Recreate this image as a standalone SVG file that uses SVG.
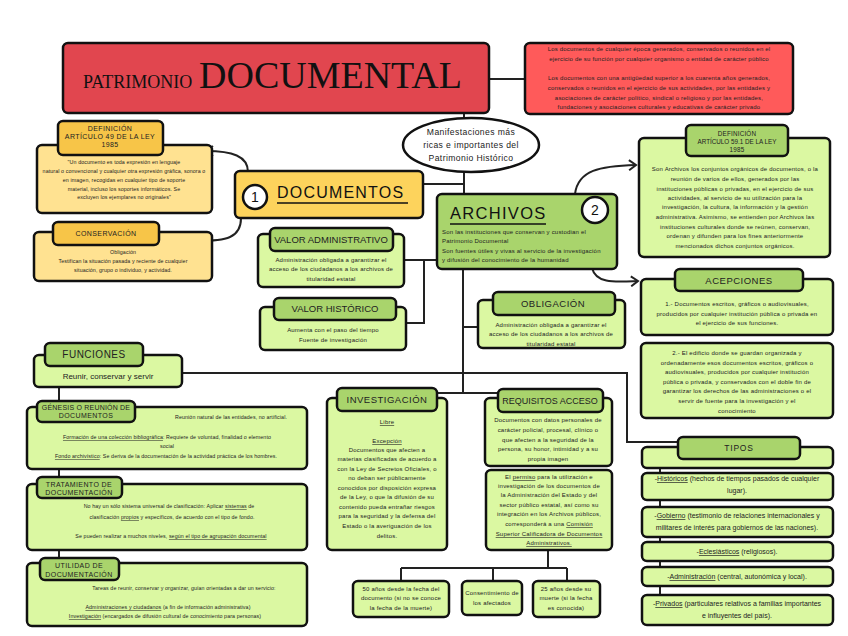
<svg xmlns="http://www.w3.org/2000/svg" width="848" height="636" viewBox="0 0 848 636">
<defs>
<style>
.box{stroke:#111;stroke-width:2.5}
.lg{fill:#DBF8A2}.dg{fill:#A9D46C}.ly{fill:#FFE291}.dy{fill:#F7C548}
.ln{fill:none;stroke:#222;stroke-width:2}
.s{font-family:"Liberation Sans",Arial,sans-serif;font-size:6px;letter-spacing:.2px;fill:#222;text-anchor:middle}
.s5{font-family:"Liberation Sans",Arial,sans-serif;font-size:5.3px;letter-spacing:.1px;fill:#222;text-anchor:middle}
.h{font-family:"Liberation Sans",Arial,sans-serif;font-size:9.5px;letter-spacing:.5px;fill:#222;text-anchor:middle}
.tb{font-family:"Liberation Sans",Arial,sans-serif;font-size:7px;letter-spacing:.4px;fill:#222;text-anchor:middle}
.tp{font-family:"Liberation Sans",Arial,sans-serif;font-size:7px;fill:#222;text-anchor:middle}
.u{text-decoration:underline}
</style>
<marker id="arr" markerWidth="12" markerHeight="12" refX="9" refY="6" orient="auto" markerUnits="userSpaceOnUse">
<path d="M2,1 L9,6 L2,11" fill="none" stroke="#222" stroke-width="2"/>
</marker>
</defs>
<rect width="848" height="636" fill="#fff"/>

<g id="connectors">
<path class="ln" d="M489,79 H525"/>
<path class="ln" d="M464,113 V118"/>
<path class="ln" d="M464,172 V194"/>
<path class="ln" d="M423,184 H464"/>
<path class="ln" d="M463,269 V393"/>
<path class="ln" d="M463,327 H478"/>
<path class="ln" d="M404,260 H437 M424,260 V323 H406"/>
<path class="ln" d="M182,373 H627 V442 H678"/>
<path class="ln" d="M436,393 H499"/>
<path class="ln" d="M548,550 V568 M401,568 H567 M401,568 V581 M493,568 V581 M567,568 V581"/>
<path class="ln" d="M59,387 V401 M59,469 V477 M59,550 V560"/>
<path class="ln" d="M660,467 V596"/>
<path class="ln" d="M248,172 C248,156 232,151 206,151" marker-end="url(#arr)"/>
<path class="ln" d="M241,218 C241,238 226,241 198,241" marker-end="url(#arr)"/>
<path class="ln" d="M575,194 C578,170 600,166 636,165" marker-end="url(#arr)"/>
<path class="ln" d="M592,268 C596,284 615,282 638,281" marker-end="url(#arr)"/>
</g>

<g id="title">
<rect class="box" x="63" y="43" width="426" height="70" rx="5" fill="#E1464F"/>
<text x="83" y="88" font-family="Liberation Serif,serif" font-size="18" fill="#111">PATRIMONIO</text>
<text x="199" y="88" font-family="Liberation Serif,serif" font-size="38" fill="#111">DOCUMENTAL</text>
</g>

<g id="info-roja">
<rect class="box" x="525" y="43" width="268" height="71" rx="5" fill="#FF5A5A"/>
<text class="s" x="659" y="51">Los documentos de cualquier época generados, conservados o reunidos en el</text>
<text class="s" x="659" y="61">ejercicio de su función por cualquier organismo o entidad de carácter público</text>
<text class="s" x="659" y="80">Los documentos con una antigüedad superior a los cuarenta años generados,</text>
<text class="s" x="659" y="90">conservados o reunidos en el ejercicio de sus actividades, por las entidades y</text>
<text class="s" x="659" y="100">asociaciones de carácter político, sindical o religioso y por las entidades,</text>
<text class="s" x="659" y="109">fundaciones y asociaciones culturales y educativas de carácter privado</text>
</g>

<g id="manifestaciones">
<ellipse cx="471" cy="145" rx="68" ry="27" fill="#fff" stroke="#111" stroke-width="2.5"/>
<text class="tp" x="471" y="135" style="font-size:8.6px;letter-spacing:.4px">Manifestaciones más</text>
<text class="tp" x="471" y="148" style="font-size:8.6px;letter-spacing:.4px">ricas e importantes del</text>
<text class="tp" x="471" y="161" style="font-size:8.6px;letter-spacing:.4px">Patrimonio Histórico</text>
</g>

<g id="documentos">
<rect class="box" x="235" y="171" width="188" height="47" rx="5" fill="#FDD35C"/>
<circle cx="255" cy="197" r="12" fill="#fff" stroke="#111" stroke-width="2.5"/>
<text x="255" y="202" font-family="Liberation Sans,sans-serif" font-size="14" text-anchor="middle" fill="#111">1</text>
<text x="277" y="198" font-family="Liberation Sans,sans-serif" font-size="16" letter-spacing="1.2" fill="#111">DOCUMENTOS</text>
<path d="M277,203 H408" stroke="#111" stroke-width="1.5"/>
</g>

<g id="archivos">
<rect class="box" x="437" y="194" width="180" height="75" rx="5" fill="#A9D46C"/>
<text x="450" y="219" font-family="Liberation Sans,sans-serif" font-size="16.5" letter-spacing="1.3" fill="#111">ARCHIVOS</text>
<path d="M450,224 H546" stroke="#111" stroke-width="1.5"/>
<circle cx="595" cy="210" r="13" fill="#fff" stroke="#111" stroke-width="2.5"/>
<text x="595" y="215" font-family="Liberation Sans,sans-serif" font-size="14" text-anchor="middle" fill="#111">2</text>
<text class="s" x="442" y="234" style="text-anchor:start">Son las instituciones que conservan y custodian el</text>
<text class="s" x="442" y="243" style="text-anchor:start">Patrimonio Documental</text>
<text class="s" x="442" y="253" style="text-anchor:start">Son fuentes útiles y vivas al servicio de la investigación</text>
<text class="s" x="442" y="262" style="text-anchor:start">y difusión del conocimiento de la humanidad</text>
</g>

<g id="definicion49">
<rect class="box ly" x="37" y="145" width="175" height="68" rx="5"/>
<rect class="box dy" x="58" y="121" width="105" height="34" rx="5"/>
<text class="tb" x="110" y="131">DEFINICIÓN</text>
<text class="tb" x="110" y="139">ARTÍCULO 49 DE LA LEY</text>
<text class="tb" x="110" y="147">1985</text>
<text class="s5" x="124" y="164">"Un documento es toda expresión en lenguaje</text>
<text class="s5" x="124" y="173">natural o convencional y cualquier otra expresión gráfica, sonora o</text>
<text class="s5" x="124" y="182">en imagen, recogidas en cualquier tipo de soporte</text>
<text class="s5" x="124" y="191">material, incluso los soportes informáticos. Se</text>
<text class="s5" x="124" y="199">excluyen los ejemplares no originales"</text>
</g>

<g id="conservacion">
<rect class="box ly" x="34" y="232" width="178" height="49" rx="5"/>
<rect class="box dy" x="53" y="222" width="106" height="23" rx="5"/>
<text class="tb" x="106" y="236">CONSERVACIÓN</text>
<text class="s5" x="123" y="254">Obligación</text>
<text class="s5" x="123" y="263">Testifican la situación pasada y reciente de cualquier</text>
<text class="s5" x="123" y="272">situación, grupo o individuo, y actividad.</text>
</g>

<g id="valor-administrativo">
<rect class="box lg" x="258" y="234" width="146" height="53" rx="5"/>
<rect class="box dg" x="270" y="228" width="123" height="23" rx="5"/>
<text class="h" x="331" y="243" style="letter-spacing:0">VALOR ADMINISTRATIVO</text>
<text class="s" x="331" y="262">Administración obligada a garantizar el</text>
<text class="s" x="331" y="271">acceso de los ciudadanos a los archivos de</text>
<text class="s" x="331" y="281">titularidad estatal</text>
</g>

<g id="valor-historico">
<rect class="box lg" x="260" y="307" width="146" height="43" rx="5"/>
<rect class="box dg" x="274" y="298" width="122" height="22" rx="5"/>
<text class="h" x="335" y="312" style="letter-spacing:0">VALOR HISTÓRICO</text>
<text class="s" x="333" y="332">Aumenta con el paso del tiempo</text>
<text class="s" x="333" y="342">Fuente de investigación</text>
</g>

<g id="obligacion">
<rect class="box lg" x="478" y="300" width="147" height="48" rx="5"/>
<rect class="box dg" x="493" y="292" width="122" height="23" rx="5"/>
<text class="h" x="553" y="307">OBLIGACIÓN</text>
<text class="s" x="551" y="327">Administración obligada a garantizar el</text>
<text class="s" x="551" y="336">acceso de los ciudadanos a los archivos de</text>
<text class="s" x="551" y="346">titularidad estatal</text>
</g>

<g id="definicion59">
<rect class="box lg" x="639" y="138" width="191" height="119" rx="5"/>
<rect class="box dg" x="686" y="125" width="102" height="31" rx="5"/>
<text class="tb" x="737" y="136" style="font-size:6.3px;letter-spacing:.2px">DEFINICIÓN</text>
<text class="tb" x="737" y="144" style="font-size:6.3px;letter-spacing:0">ARTÍCULO 59.1 DE LA LEY</text>
<text class="tb" x="737" y="152" style="font-size:6.3px;letter-spacing:.2px">1985</text>
<text class="s" x="735" y="171">Son Archivos los conjuntos orgánicos de documentos, o la</text>
<text class="s" x="735" y="181">reunión de varios de ellos, generados por las</text>
<text class="s" x="735" y="191">instituciones públicas o privadas, en el ejercicio de sus</text>
<text class="s" x="735" y="200">actividades, al servicio de su utilización para la</text>
<text class="s" x="735" y="209">investigación, la cultura, la información y la gestión</text>
<text class="s" x="735" y="219">administrativa. Asimismo, se entienden por Archivos las</text>
<text class="s" x="735" y="229">instituciones culturales donde se reúnen, conservan,</text>
<text class="s" x="735" y="238">ordenan y difunden para los fines anteriormente</text>
<text class="s" x="735" y="248">mencionados dichos conjuntos orgánicos.</text>
</g>

<g id="acepciones">
<rect class="box lg" x="641" y="279" width="192" height="56" rx="5"/>
<rect class="box dg" x="675" y="269" width="128" height="22" rx="5"/>
<text class="h" x="739" y="284">ACEPCIONES</text>
<text class="s" x="737" y="306">1.- Documentos escritos, gráficos o audiovisuales,</text>
<text class="s" x="737" y="316">producidos por cualquier institución pública o privada en</text>
<text class="s" x="737" y="325">el ejercicio de sus funciones.</text>
</g>

<g id="acepcion2">
<rect class="box lg" x="641" y="343" width="192" height="75" rx="5"/>
<text class="s" x="737" y="355">2.- El edificio donde se guardan organizada y</text>
<text class="s" x="737" y="365">ordenadamente esos documentos escritos, gráficos o</text>
<text class="s" x="737" y="374">audiovisuales, producidos por cualquier institución</text>
<text class="s" x="737" y="384">pública o privada, y conservados con el doble fin de</text>
<text class="s" x="737" y="393">garantizar los derechos de las administraciones o el</text>
<text class="s" x="737" y="403">servir de fuente para la investigación y el</text>
<text class="s" x="737" y="413">conocimiento</text>
</g>

<g id="funciones">
<rect class="box lg" x="34" y="355" width="148" height="32" rx="5"/>
<rect class="box dg" x="45" y="343" width="98" height="23" rx="5"/>
<text class="h" x="94" y="358" style="font-size:10px">FUNCIONES</text>
<text class="tp" x="108" y="379" style="font-size:8px">Reunir, conservar y servir</text>
</g>

<g id="genesis">
<rect class="box lg" x="27" y="407" width="280" height="62" rx="5"/>
<rect class="box dg" x="37" y="401" width="98" height="21" rx="5"/>
<text class="tb" x="86" y="410" style="letter-spacing:.2px">GÉNESIS O REUNIÓN DE</text>
<text class="tb" x="86" y="418">DOCUMENTOS</text>
<text class="s5" x="231" y="419">Reunión natural de las entidades, no artificial.</text>
<text class="s5" x="167" y="439"><tspan class="u">Formación de una colección bibliográfica</tspan>: Requiere de voluntad, finalidad o elemento</text>
<text class="s5" x="167" y="448">social</text>
<text class="s5" x="166" y="458"><tspan class="u">Fondo archivístico</tspan>: Se deriva de la documentación de la actividad práctica de los hombres.</text>
</g>

<g id="tratamiento">
<rect class="box lg" x="27" y="484" width="280" height="66" rx="5"/>
<rect class="box dg" x="37" y="477" width="85" height="21" rx="5"/>
<text class="tb" x="79" y="487">TRATAMIENTO DE</text>
<text class="tb" x="79" y="495">DOCUMENTACIÓN</text>
<text class="s5" x="169" y="508">No hay un sólo sistema universal de clasificación: Aplicar <tspan class="u">sistemas</tspan> de</text>
<text class="s5" x="172" y="519">clasificación <tspan class="u">propios</tspan> y específicos, de acuerdo con el tipo de fondo.</text>
<text class="s5" x="171" y="538">Se pueden realizar a muchos niveles, <tspan class="u">según el tipo de agrupación documental</tspan></text>
</g>

<g id="utilidad">
<rect class="box lg" x="27" y="563" width="280" height="63" rx="5"/>
<rect class="box dg" x="40" y="558" width="79" height="22" rx="5"/>
<text class="tb" x="79" y="568">UTILIDAD DE</text>
<text class="tb" x="79" y="577">DOCUMENTACIÓN</text>
<text class="s5" x="184" y="590">Tareas de reunir, conservar y organizar, guían orientadas a dar un servicio:</text>
<text class="s5" x="168" y="609"><tspan class="u">Administraciones y ciudadanos</tspan> (a fin de información administrativa)</text>
<text class="s5" x="165" y="618"><tspan class="u">Investigación</tspan> (encargados de difusión cultural de conocimiento para personas)</text>
</g>

<g id="investigacion">
<rect class="box lg" x="327" y="398" width="120" height="152" rx="5"/>
<rect class="box dg" x="337" y="388" width="100" height="23" rx="5"/>
<text class="h" x="387" y="403">INVESTIGACIÓN</text>
<text class="s" x="387" y="424"><tspan class="u">Libre</tspan></text>
<text class="s" x="387" y="443"><tspan class="u">Excepción</tspan></text>
<text class="s" x="387" y="452">Documentos que afecten a</text>
<text class="s" x="387" y="461">materias clasificadas de acuerdo a</text>
<text class="s" x="387" y="471">con la Ley de Secretos Oficiales, o</text>
<text class="s" x="387" y="480">no deban ser públicamente</text>
<text class="s" x="387" y="490">conocidos por disposición expresa</text>
<text class="s" x="387" y="499">de la Ley, o que la difusión de su</text>
<text class="s" x="387" y="509">contenido pueda entrañar riesgos</text>
<text class="s" x="387" y="518">para la seguridad y la defensa del</text>
<text class="s" x="387" y="528">Estado o la averiguación de los</text>
<text class="s" x="387" y="538">delitos.</text>
</g>

<g id="requisitos-acceso">
<rect class="box lg" x="485" y="398" width="127" height="68" rx="5"/>
<rect class="box dg" x="498" y="389" width="105" height="23" rx="5"/>
<text class="h" x="550" y="404" style="letter-spacing:0;font-size:9px">REQUISITOS ACCESO</text>
<text class="s" x="548" y="422">Documentos con datos personales de</text>
<text class="s" x="548" y="432">carácter policial, procesal, clínico o</text>
<text class="s" x="548" y="442">que afecten a la seguridad de la</text>
<text class="s" x="548" y="451">persona, su honor, intimidad y a su</text>
<text class="s" x="548" y="461">propia imagen</text>
</g>

<g id="permiso">
<rect class="box lg" x="486" y="470" width="126" height="80" rx="5"/>
<text class="s" x="549" y="479">El <tspan class="u">permiso</tspan> para la utilización e</text>
<text class="s" x="549" y="488">investigación de los documentos de</text>
<text class="s" x="549" y="497">la Administración del Estado y del</text>
<text class="s" x="549" y="507">sector público estatal, así como su</text>
<text class="s" x="549" y="516">integración en los Archivos públicos,</text>
<text class="s" x="549" y="526">corresponderá a una <tspan class="u">Comisión</tspan></text>
<text class="s" x="549" y="536"><tspan class="u">Superior Calificadora de Documentos</tspan></text>
<text class="s" x="549" y="545"><tspan class="u">Administrativos.</tspan></text>
</g>

<g id="plazo-50">
<rect class="box lg" x="353" y="581" width="96" height="36" rx="5"/>
<text class="s" x="401" y="591">50 años desde la fecha del</text>
<text class="s" x="401" y="600">documento (si no se conoce</text>
<text class="s" x="401" y="610">la fecha de la muerte)</text>
</g>

<g id="consentimiento">
<rect class="box lg" x="462" y="581" width="60" height="34" rx="5"/>
<text class="s" x="492" y="595">Consentimiento de</text>
<text class="s" x="492" y="605">los afectados</text>
</g>

<g id="plazo-25">
<rect class="box lg" x="533" y="581" width="67" height="36" rx="5"/>
<text class="s" x="566" y="591">25 años desde su</text>
<text class="s" x="566" y="600">muerte (si la fecha</text>
<text class="s" x="566" y="610">es conocida)</text>
</g>

<g id="tipos">
<rect class="box lg" x="642" y="447" width="191" height="21" rx="5"/>
<rect class="box dg" x="678" y="437" width="122" height="22" rx="5"/>
<text class="h" x="739" y="451" style="font-size:8.5px;letter-spacing:.8px">TIPOS</text>
</g>
<g id="tipo-historicos">
<rect class="box lg" x="642" y="473" width="191" height="27" rx="5"/>
<text class="tp" x="737" y="481">-<tspan class="u">Históricos</tspan> (hechos de tiempos pasados de cualquier</text>
<text class="tp" x="737" y="493">lugar).</text>
</g>
<g id="tipo-gobierno">
<rect class="box lg" x="642" y="507" width="191" height="30" rx="5"/>
<text class="tp" x="737" y="518">-<tspan class="u">Gobierno</tspan> (testimonio de relaciones internacionales y</text>
<text class="tp" x="737" y="530">militares de interés para gobiernos de las naciones).</text>
</g>
<g id="tipo-eclesiasticos">
<rect class="box lg" x="642" y="542" width="191" height="19" rx="5"/>
<text class="tp" x="737" y="554">-<tspan class="u">Eclesiásticos</tspan> (religiosos).</text>
</g>
<g id="tipo-administracion">
<rect class="box lg" x="642" y="567" width="191" height="19" rx="5"/>
<text class="tp" x="737" y="579">-<tspan class="u">Administración</tspan> (central, autonómica y local).</text>
</g>
<g id="tipo-privados">
<rect class="box lg" x="642" y="595" width="191" height="30" rx="5"/>
<text class="tp" x="737" y="606">-<tspan class="u">Privados</tspan> (particulares relativos a familias importantes</text>
<text class="tp" x="737" y="618">e influyentes del país).</text>
</g>
</svg>
